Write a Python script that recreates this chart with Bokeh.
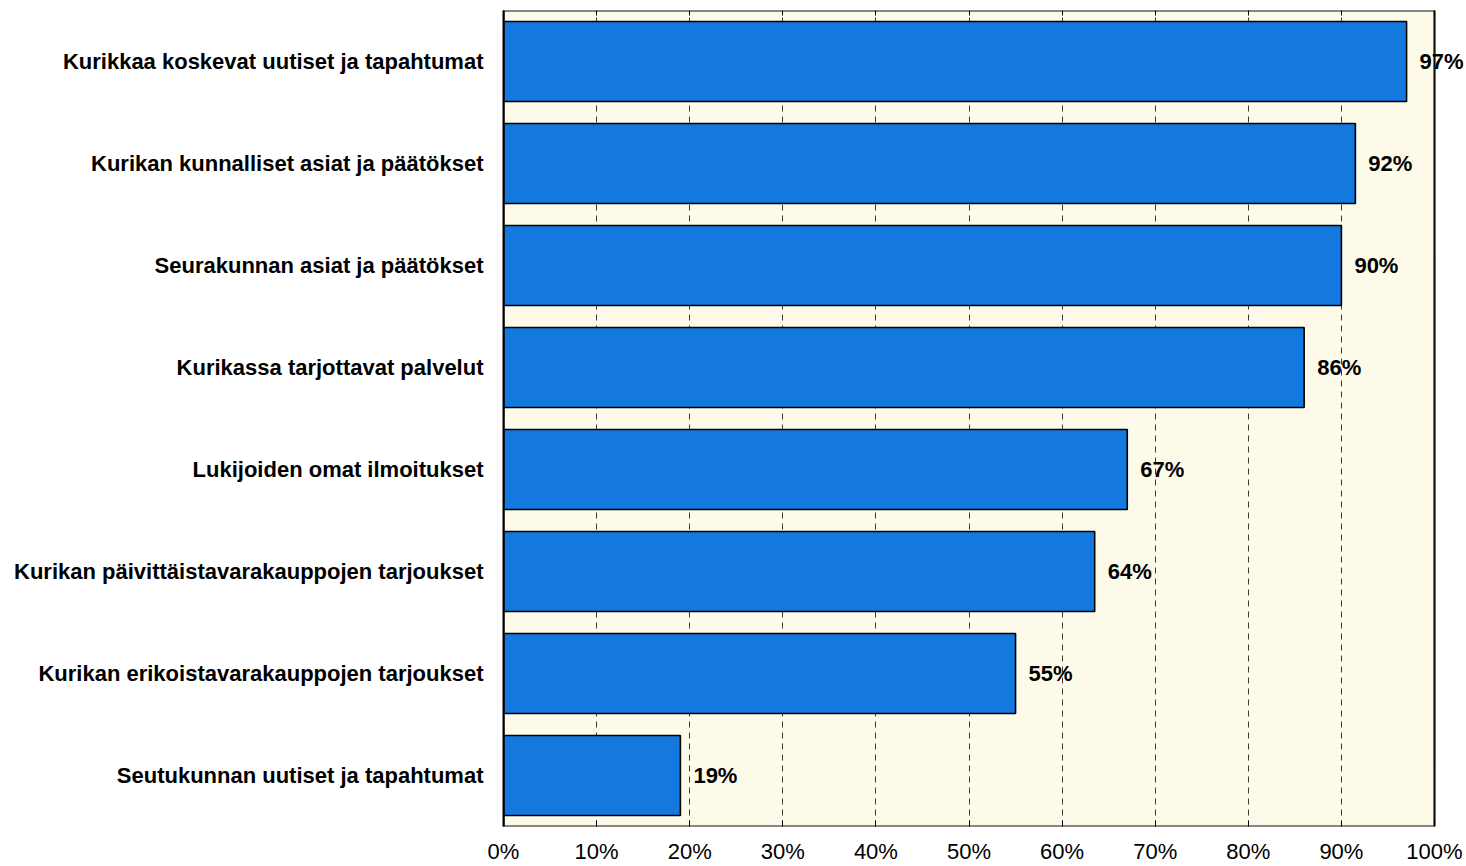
from bokeh.plotting import figure
from bokeh.models import ColumnDataSource, Range1d, LinearAxis, FixedTicker, CustomJSTickFormatter, Label, BoxAnnotation
from bokeh.embed import file_html
from bokeh.resources import INLINE

categories = [
    "Kurikkaa koskevat uutiset ja tapahtumat",
    "Kurikan kunnalliset asiat ja päätökset",
    "Seurakunnan asiat ja päätökset",
    "Kurikassa tarjottavat palvelut",
    "Lukijoiden omat ilmoitukset",
    "Kurikan päivittäistavarakauppojen tarjoukset",
    "Kurikan erikoistavarakauppojen tarjoukset",
    "Seutukunnan uutiset ja tapahtumat",
]
values = [97.0, 91.5, 90.0, 86.0, 67.0, 63.5, 55.0, 19.0]
labels = ["97%", "92%", "90%", "86%", "67%", "64%", "55%", "19%"]
x_ticks = [0, 10, 20, 30, 40, 50, 60, 70, 80, 90, 100]

n = len(categories)
pos = [n - i - 0.5 for i in range(n)]  # first category at top

src = ColumnDataSource(dict(pos=pos, val=values, lab=labels))

# frame extends a bit past 100% so the "97%" label can overlap the right edge
W, LEFT, X100 = 1464, 503, 1434
x_end = 100.0 * (W - LEFT) / (X100 - LEFT)

p = figure(
    width=W, height=866,
    y_range=Range1d(0, n),
    x_range=Range1d(0, x_end),
    output_backend="svg", toolbar_location=None,
    min_border_left=LEFT, min_border_right=0, min_border_top=10, min_border_bottom=39,
)
p.background_fill_color = "#FEFAEA"
p.border_fill_color = "white"
p.outline_line_color = None

# white area beyond 100 %
p.add_layout(BoxAnnotation(left=100, fill_color="white", fill_alpha=1.0,
                           line_color=None, level="underlay"))

p.hbar(y="pos", right="val", left=0, height=0.785, source=src,
       fill_color="#1479DF", line_color="black", line_width=1.6)

# plot-area border (0 % .. 100 %)
p.quad(left=[0], right=[100], bottom=[0], top=[n], fill_color=None,
       line_color="#111111", line_width=2.2)

for y, v, t in zip(pos, values, labels):
    p.add_layout(Label(x=v, y=y, text=t, x_offset=13,
                       text_baseline="middle", text_align="left",
                       text_font="Liberation Sans", text_font_style="bold",
                       text_font_size="22px", text_color="black"))

# grid
p.ygrid.grid_line_color = None
p.xgrid.ticker = FixedTicker(ticks=x_ticks)
p.xgrid.grid_line_color = "#3a3a3a"
p.xgrid.grid_line_dash = "6 5"
p.xgrid.grid_line_width = 1
p.xgrid.level = "underlay"

# x axis
xa = p.xaxis[0]
xa.ticker = FixedTicker(ticks=x_ticks)
xa.formatter = CustomJSTickFormatter(code="return tick + '%';")
xa.major_tick_in = 6
xa.major_tick_out = 0
xa.minor_tick_line_color = None
xa.axis_line_color = None
xa.major_tick_line_color = "black"
xa.major_label_text_font = "Liberation Sans"
xa.major_label_text_font_size = "22px"
xa.major_label_text_color = "black"
xa.major_label_standoff = 12

top = LinearAxis(ticker=FixedTicker(ticks=x_ticks), major_tick_in=5, major_tick_out=0,
                 minor_tick_line_color=None, major_label_text_font_size="0px",
                 axis_line_color=None, major_tick_line_color="black")
p.add_layout(top, "above")

# y axis
ya = p.yaxis[0]
ya.ticker = FixedTicker(ticks=pos)
ya.major_label_overrides = {y: c for y, c in zip(pos, categories)}
ya.major_tick_line_color = None
ya.minor_tick_line_color = None
ya.axis_line_color = "black"
ya.axis_line_width = 2
ya.major_label_standoff = 14
ya.major_label_text_font = "Liberation Sans"
ya.major_label_text_font_style = "bold"
ya.major_label_text_font_size = "22px"
ya.major_label_text_color = "black"

open("out.html", "w").write(file_html(p, INLINE))
